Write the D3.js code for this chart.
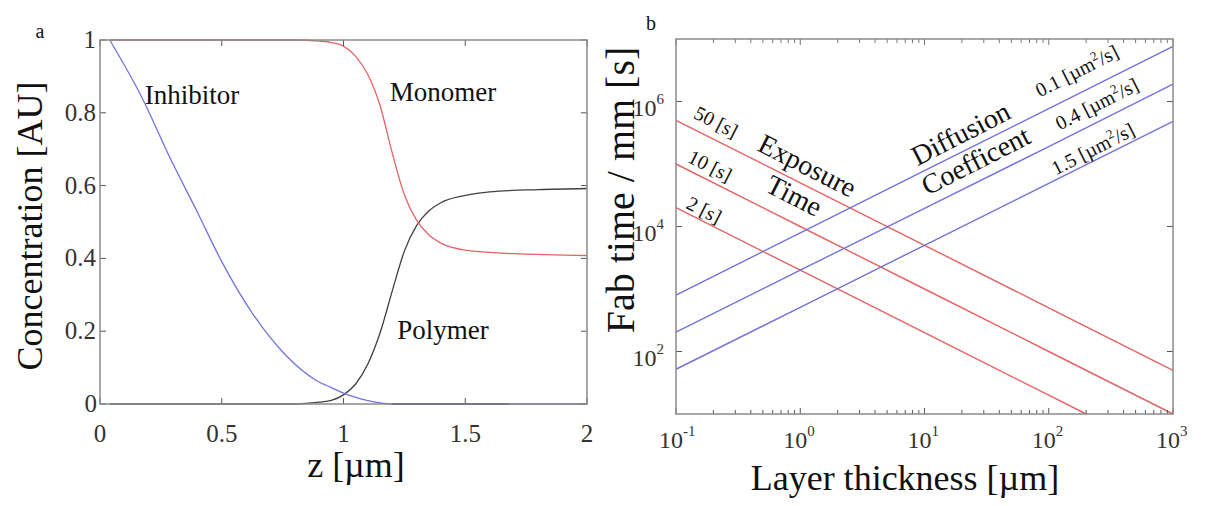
<!DOCTYPE html>
<html>
<head>
<meta charset="utf-8">
<script src="https://cdn.jsdelivr.net/npm/d3@7"></script>
<style>
  body { margin: 0; background: #fff; }
  text { font-family: "Liberation Serif", "Times New Roman", serif; }
</style>
</head>
<body>
<div id="chart"></div>
<script>
// ---- panel a : concentration profiles ----
const zInhibitor = [0.04, 0.17, 0.29, 0.40, 0.50, 0.63, 0.76, 0.89, 0.95, 1.0, 1.05, 1.1, 1.15, 1.2, 2.0];
const inhibitor  = [1.0, 0.845, 0.673, 0.527, 0.391, 0.245, 0.136, 0.064, 0.045, 0.03, 0.018, 0.009, 0.003, 0.0, 0.0];
const zInhibitorTail = [1.2, 1.68];
const inhibitorTail  = [0.0, 0.0];

const zMonomer = [0.04, 0.8, 0.9, 0.95, 1.0, 1.05, 1.1, 1.15, 1.2, 1.25, 1.3, 1.35, 1.4, 1.5, 1.7, 2.0];
const monomer  = [1.0, 1.0, 0.997, 0.993, 0.983, 0.955, 0.905, 0.82, 0.69, 0.575, 0.505, 0.465, 0.442, 0.423, 0.413, 0.408];

const zPolymer = [0.04, 0.8, 0.9, 0.95, 1.0, 1.05, 1.1, 1.15, 1.2, 1.25, 1.3, 1.35, 1.4, 1.5, 1.6, 1.8, 2.0];
const polymer  = [0.0, 0.0, 0.005, 0.01, 0.025, 0.055, 0.11, 0.195, 0.31, 0.42, 0.49, 0.53, 0.553, 0.573, 0.583, 0.589, 0.592];

const aTicksX = [0, 0.5, 1, 1.5, 2];
const aTicksY = [0, 0.2, 0.4, 0.6, 0.8, 1];

// ---- panel b : fab time vs layer thickness ----
const thickness = [0.1, 1, 10, 100, 1000];
const exposure50 = [5e5, 5e4, 5e3, 500, 50];
const exposure10 = [1e5, 1e4, 1e3, 100, 10];
const thickness2 = [0.1, 1, 10, 100, 200];
const exposure2  = [2e4, 2e3, 200, 20, 10];
const diffusion01 = [800, 7.9e3, 7.8e4, 7.7e5, 7.6e6];
const diffusion04 = [205, 2.0e3, 1.95e4, 1.9e5, 1.9e6];
const diffusion15 = [52, 5.1e2, 5.0e3, 4.9e4, 4.8e5];

const bTicksX = [0.1, 1, 10, 100, 1000];
const bTickExpX = ["-1", "0", "1", "2", "3"];
const bTicksY = [1e2, 1e4, 1e6];
const bTickExpY = ["2", "4", "6"];

const W = 1224, H = 506;
const svg = d3.select("#chart").append("svg").attr("width", W).attr("height", H);

const red = "#e26464", blue = "#7272de", black = "#404040", frame = "#8a8a8a";

function label(x, y, str, size, anchor, rot) {
    return svg.append("text")
        .attr("transform", `translate(${x},${y}) rotate(${rot || 0})`)
        .attr("text-anchor", anchor || "middle")
        .attr("font-size", size)
        .attr("fill", "#111")
        .text(str);
}

// ================= panel a =================
const xA = d3.scaleLinear().domain([0, 2]).range([100, 587]);
const yA = d3.scaleLinear().domain([0, 1]).range([404, 40]);

const gA = svg.append("g");
const lineA = d3.line().x(d => xA(d[0])).y(d => yA(d[1])).curve(d3.curveMonotoneX);

function drawA(zs, vs, color, w) {
    gA.append("path")
      .datum(d3.zip(zs, vs))
      .attr("d", lineA)
      .attr("fill", "none")
      .attr("stroke", color)
      .attr("stroke-width", w || 1.3);
}
drawA(zPolymer, polymer, black);
drawA(zInhibitor, inhibitor, blue);
drawA(zInhibitorTail, inhibitorTail, "#3a3aa8", 1.8);
drawA(zMonomer, monomer, red);

// ticks (inward, all four sides)
aTicksX.forEach(t => {
    gA.append("line").attr("x1", xA(t)).attr("x2", xA(t)).attr("y1", 404).attr("y2", 398).attr("stroke", "#555");
    gA.append("line").attr("x1", xA(t)).attr("x2", xA(t)).attr("y1", 40).attr("y2", 46).attr("stroke", "#555");
    label(xA(t), 442, d3.format("")(t), 25, "middle").attr("fill", "#333");
});
aTicksY.forEach(t => {
    gA.append("line").attr("x1", 100).attr("x2", 106).attr("y1", yA(t)).attr("y2", yA(t)).attr("stroke", "#555");
    gA.append("line").attr("x1", 587).attr("x2", 581).attr("y1", yA(t)).attr("y2", yA(t)).attr("stroke", "#555");
    label(t === 0 ? 97 : 96, yA(t) + 8, d3.format("")(t), 25, "end").attr("fill", "#333");
});
gA.append("rect").attr("x", 100).attr("y", 40).attr("width", 487).attr("height", 364)
  .attr("fill", "none").attr("stroke", frame).attr("stroke-width", 1.5);

label(192, 104, "Inhibitor", 27);
label(443, 101, "Monomer", 27);
label(443, 339, "Polymer", 27);
label(356, 477, "z [\u00b5m]", 36);
label(42, 226, "Concentration [AU]", 36, "middle", -90);
label(40, 38, "a", 20);

// ================= panel b =================
const xB = d3.scaleLog().domain([0.1, 1000]).range([676, 1173]);
const yB = d3.scaleLog().domain([10, 1e7]).range([414, 39]);
const gB = svg.append("g");
const lineB = d3.line().x(d => xB(d[0])).y(d => yB(d[1]));

function drawB(xs, vs, color) {
    gB.append("path")
      .datum(d3.zip(xs, vs))
      .attr("d", lineB)
      .attr("fill", "none")
      .attr("stroke", color)
      .attr("stroke-width", 1.4);
}
drawB(thickness, exposure50, red);
drawB(thickness, exposure10, red);
drawB(thickness2, exposure2, red);
drawB(thickness, diffusion01, blue);
drawB(thickness, diffusion04, blue);
drawB(thickness, diffusion15, blue);

// x ticks: decades + minor
const minorX = [];
[0.1, 1, 10, 100].forEach(d => { for (let k = 2; k <= 9; k++) minorX.push(d * k); });
minorX.forEach(t => {
    gB.append("line").attr("x1", xB(t)).attr("x2", xB(t)).attr("y1", 414).attr("y2", 410).attr("stroke", "#555");
    gB.append("line").attr("x1", xB(t)).attr("x2", xB(t)).attr("y1", 39).attr("y2", 43).attr("stroke", "#777");
});
bTicksX.forEach((t, i) => {
    gB.append("line").attr("x1", xB(t)).attr("x2", xB(t)).attr("y1", 414).attr("y2", 408).attr("stroke", "#555");
    gB.append("line").attr("x1", xB(t)).attr("x2", xB(t)).attr("y1", 39).attr("y2", 45).attr("stroke", "#777");
    const tx = svg.append("text").attr("x", xB(t) - 17).attr("y", 448).attr("font-size", 24).attr("fill", "#333");
    tx.append("tspan").text("10");
    tx.append("tspan").attr("dy", -12).attr("font-size", 15).text(bTickExpX[i]);
});
bTicksY.forEach((t, i) => {
    gB.append("line").attr("x1", 676).attr("x2", 682).attr("y1", yB(t)).attr("y2", yB(t)).attr("stroke", "#555");
    gB.append("line").attr("x1", 1173).attr("x2", 1167).attr("y1", yB(t)).attr("y2", yB(t)).attr("stroke", "#555");
    const ty = svg.append("text").attr("x", 664).attr("y", yB(t) + 14).attr("text-anchor", "end")
        .attr("font-size", 24).attr("fill", "#333");
    ty.append("tspan").text("10");
    ty.append("tspan").attr("dy", -12).attr("font-size", 15).text(bTickExpY[i]);
});
gB.append("rect").attr("x", 676).attr("y", 39).attr("width", 497).attr("height", 375)
  .attr("fill", "none").attr("stroke", frame).attr("stroke-width", 1.5);

// in-plot labels
label(713, 128, "50 [s]", 20, "middle", 27);
label(707, 172, "10 [s]", 20, "middle", 27);
label(701, 216, "2 [s]", 20, "middle", 27);
label(803, 174, "Exposure", 28, "middle", 27);
label(790, 204, "Time", 28, "middle", 27);
label(965, 142, "Diffusion", 28, "middle", -27);
label(980, 169, "Coefficent", 28, "middle", -27);

function diffLabel(x, y, val) {
    const t = svg.append("text")
        .attr("transform", `translate(${x},${y}) rotate(-27)`)
        .attr("text-anchor", "middle").attr("font-size", 20).attr("fill", "#111");
    t.append("tspan").text(val + " [\u00b5m");
    t.append("tspan").attr("dy", -8).attr("font-size", 13).text("2");
    t.append("tspan").attr("dy", 8).text("/s]");
}
diffLabel(1080, 77, "0.1");
diffLabel(1100, 110, "0.4");
diffLabel(1096, 155, "1.5");

label(905, 490, "Layer thickness [\u00b5m]", 36);
label(634, 190, "Fab time / mm [s]", 40, "middle", -90);
label(651, 30, "b", 20);
</script>
</body>
</html>
